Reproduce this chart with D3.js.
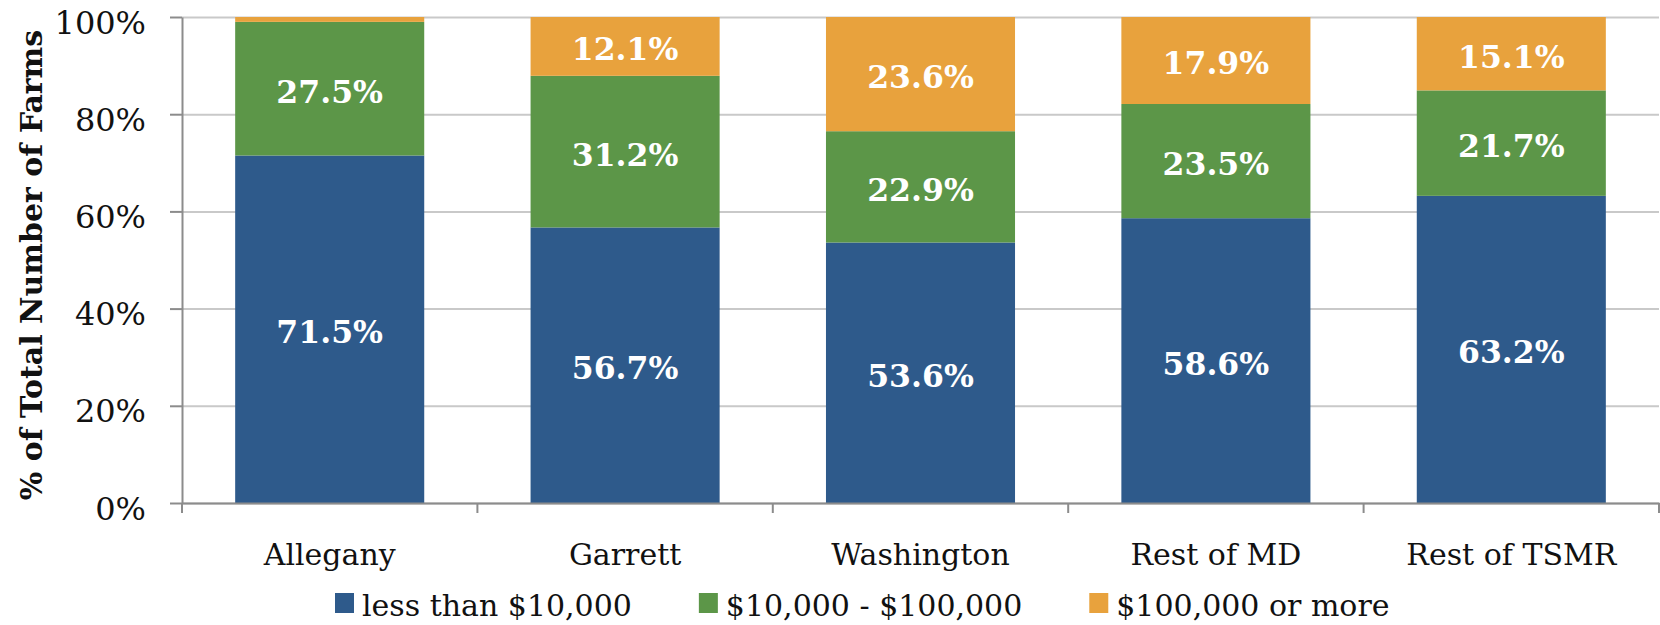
<!DOCTYPE html>
<html>
<head>
<meta charset="utf-8">
<script src="https://cdn.jsdelivr.net/npm/d3@7"></script>
<style>
  body { margin: 0; background: #fff; }
  svg { display: block; font-family: "DejaVu Serif", serif; }
</style>
</head>
<body>
<div class="chart"></div>
<script>
// chart data
var categories = ["Allegany", "Garrett", "Washington", "Rest of MD", "Rest of TSMR"];
var seriesNames = ["less than $10,000", "$10,000 - $100,000", "$100,000 or more"];
var lessThan10k = [71.5, 56.7, 53.6, 58.6, 63.2];
var from10kTo100k = [27.5, 31.2, 22.9, 23.5, 21.7];
var over100k = [1.0, 12.1, 23.6, 17.9, 15.1];
var yTicks = [0, 20, 40, 60, 80, 100];
var colors = ["#2e5a8b", "#5c9648", "#e8a23d"];

var margin = {top: 17, right: 1, bottom: 122, left: 182},
    width = 1660 - margin.left - margin.right,
    height = 625 - margin.top - margin.bottom;

// build rows for the stack
var rows = categories.map(function(c, i) {
  return {label: c, s0: lessThan10k[i], s1: from10kTo100k[i], s2: over100k[i]};
});
var stack = d3.stack().keys(["s0", "s1", "s2"]);
var layers = stack(rows);

var x = d3.scaleBand()
    .domain(categories)
    .range([0, width])
    .paddingInner(0.36)
    .paddingOuter(0.18);

var y = d3.scaleLinear()
    .domain([0, 100])
    .range([height, 0])
    .clamp(true);

var svg = d3.select(".chart").append("svg")
    .attr("width", 1660)
    .attr("height", 625);

var g = svg.append("g")
    .attr("transform", "translate(" + margin.left + "," + margin.top + ")");

// gridlines
g.append("g")
    .attr("class", "grid")
    .call(d3.axisLeft(y).tickValues(yTicks).tickSize(-width).tickFormat(""))
    .call(function(s) {
      s.select(".domain").remove();
      s.selectAll("line").attr("stroke", "#c9c9c9").attr("stroke-width", 2);
    });

// bars
var layer = g.selectAll(".layer")
    .data(layers)
  .enter().append("g")
    .attr("class", "layer")
    .attr("fill", function(d, i) { return colors[i]; });

layer.selectAll("rect")
    .data(function(d) { return d; })
  .enter().append("rect")
    .attr("x", function(d) { return x(d.data.label); })
    .attr("width", x.bandwidth())
    .attr("y", function(d) { return y(d[1]); })
    .attr("height", function(d) { return y(d[0]) - y(d[1]); });

// value labels
layer.selectAll("text")
    .data(function(d) { return d.map(function(p) { p.key = d.key; return p; }); })
  .enter().append("text")
    .filter(function(d) { return d[1] - d[0] >= 5; })
    .attr("x", function(d) { return x(d.data.label) + x.bandwidth() / 2; })
    .attr("y", function(d) { return (y(d[0]) + y(d[1])) / 2 + 14; })
    .attr("text-anchor", "middle")
    .attr("fill", "#fff")
    .style("font-size", "31.5px")
    .style("font-weight", "bold")
    .text(function(d) { return d.data[d.key].toFixed(1) + "%"; });

// y axis
g.append("g")
    .call(d3.axisLeft(y).tickValues(yTicks).tickSize(12).tickSizeOuter(0).tickPadding(24)
      .tickFormat(function(d) { return d + "%"; }))
    .call(function(s) {
      s.selectAll("path, line").attr("stroke", "#8c8c8c").attr("stroke-width", 2);
      s.selectAll("text").attr("dy", "16px").attr("fill", "#111")
        .style("font-size", "32px").style("font-family", "DejaVu Serif, serif");
    });

// x axis
var xAxis = g.append("g")
    .attr("transform", "translate(0," + height + ")")
    .call(d3.axisBottom(x).tickSize(0).tickSizeOuter(0).tickPadding(41))
    .call(function(s) {
      s.select(".domain").attr("stroke", "#8c8c8c").attr("stroke-width", 2);
      s.selectAll("text").attr("fill", "#111")
        .style("font-size", "30px").style("font-family", "DejaVu Serif, serif");
    });

// tick marks between categories
var bounds = categories.map(function(c) { return x(c) - x.step() * x.paddingInner() / 2; })
    .concat([x.range()[1]]);
xAxis.selectAll(".sep")
    .data(bounds)
  .enter().append("line")
    .attr("class", "sep")
    .attr("x1", function(d) { return d; })
    .attr("x2", function(d) { return d; })
    .attr("y1", 0)
    .attr("y2", 10)
    .attr("stroke", "#8c8c8c")
    .attr("stroke-width", 2);

// y axis title
svg.append("text")
    .attr("transform", "translate(42," + (margin.top + height / 2 + 5) + ") rotate(-90)")
    .attr("text-anchor", "middle")
    .style("font-size", "30px")
    .style("font-weight", "bold")
    .attr("fill", "#111")
    .text("% of Total Number of Farms");

// legend
var legend = svg.append("g").attr("class", "legend");
var lx = 335;
seriesNames.forEach(function(name, i) {
  var item = legend.append("g").attr("transform", "translate(" + lx + ",593)");
  item.append("rect")
      .attr("width", 19)
      .attr("height", 20)
      .attr("fill", colors[i]);
  var t = item.append("text")
      .attr("x", 27)
      .attr("y", 23)
      .attr("fill", "#111")
      .style("font-size", "30px")
      .text(name);
  lx += 27 + t.node().getComputedTextLength() + 67;
});
</script>
</body>
</html>
